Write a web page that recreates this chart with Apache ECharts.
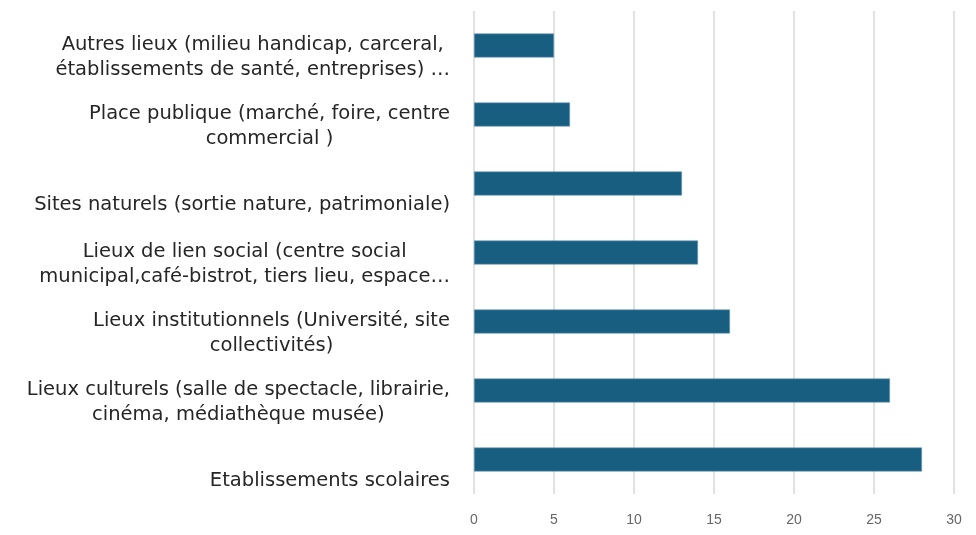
<!DOCTYPE html>
<html>
<head>
<meta charset="utf-8">
<script src="https://cdn.jsdelivr.net/npm/echarts@6/dist/echarts.min.js"></script>
<style>
html, body { margin: 0; padding: 0; background: #fff; }
#chart { width: 976px; height: 535px; }
</style>
</head>
<body>
<div id="chart"></div>
<script>
// categories, bottom to top (lines of each label)
var categories = [
    ['Etablissements scolaires'],
    ['Lieux culturels (salle de spectacle, librairie,', 'cinéma, médiathèque musée)'],
    ['Lieux institutionnels (Université, site', 'collectivités)'],
    ['Lieux de lien social (centre social', 'municipal,café-bistrot, tiers lieu, espace…'],
    ['Sites naturels (sortie nature, patrimoniale)'],
    ['Place publique (marché, foire, centre', 'commercial )'],
    ['Autres lieux (milieu handicap, carceral,', 'établissements de santé, entreprises) …']
];
var values = [28, 26, 16, 14, 13, 6, 5];
var xTicks = [0, 5, 10, 15, 20, 25, 30];

var catNames = categories.map(function (c) { return c.join('\n'); });

var myChart = echarts.init(document.getElementById('chart'));
var option = {
    animation: false,
    grid: { left: 474, right: 22, top: 11, bottom: 41, containLabel: false },
    xAxis: {
        type: 'value',
        min: xTicks[0],
        max: xTicks[xTicks.length - 1],
        interval: 5,
        axisLine: { show: false },
        axisTick: { show: false },
        axisLabel: { color: '#666', fontSize: 14, fontFamily: 'Liberation Sans', margin: 19 },
        splitLine: { lineStyle: { color: '#d9d9d9', width: 1.5 } }
    },
    yAxis: {
        type: 'category',
        data: catNames,
        axisLine: { show: false },
        axisTick: { show: false },
        axisLabel: {
            margin: 24,
            align: 'right',
            verticalAlign: 'middle',
            formatter: function (val) {
                var lines = val.split('\n');
                if (lines.length === 1) {
                    return '{s| }\n{s| }\n{a|' + lines[0] + '}';
                }
                return '{d| }\n' + lines.map(function (l) { return '{a|' + l + '}'; }).join('\n');
            },
            rich: {
                a: { align: 'center', fontSize: 19.5, lineHeight: 25, color: '#262626', fontFamily: 'DejaVu Sans' },
                s: { lineHeight: 21, fontSize: 10 },
                d: { lineHeight: 23, fontSize: 10 }
            }
        }
    },
    series: [{
        type: 'bar',
        data: values,
        barWidth: 24,
        itemStyle: { color: '#175e80', borderColor: '#6f9bb3', borderWidth: 0.6 }
    }]
};
myChart.setOption(option);
</script>
</body>
</html>
